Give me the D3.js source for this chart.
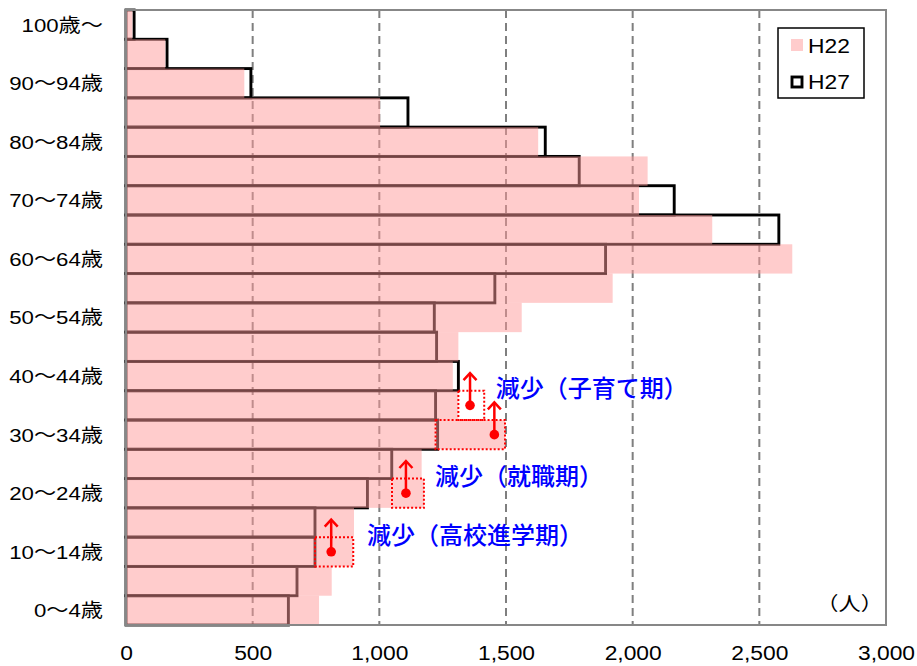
<!DOCTYPE html>
<html>
<head>
<meta charset="utf-8">
<script src="https://cdn.jsdelivr.net/npm/d3@7"></script>
<style>
  body { margin: 0; background: #fff; }
  svg { display: block; font-family: "Liberation Sans", "Noto Sans CJK JP", sans-serif; }
</style>
</head>
<body>
<svg id="chart" width="917" height="666"></svg>
<script>
// Age groups, youngest first
const ageGroups = [
  "0～4歳", "5～9歳", "10～14歳", "15～19歳", "20～24歳", "25～29歳",
  "30～34歳", "35～39歳", "40～44歳", "45～49歳", "50～54歳", "55～59歳",
  "60～64歳", "65～69歳", "70～74歳", "75～79歳", "80～84歳", "85～89歳",
  "90～94歳", "95～99歳", "100歳～"
];
// Population by age group (人)
const h22 = [762, 812, 897, 900, 1176, 1167, 1496, 1312, 1290, 1312, 1562, 1921,
             2630, 2314, 2025, 2059, 1627, 1003, 467, 155, 25];
const h27 = [641, 675, 746, 746, 953, 1049, 1230, 1222, 1312, 1226, 1217, 1456,
             1893, 2577, 2164, 1789, 1655, 1113, 493, 162, 32];
const seriesNames = ["H22", "H27"];
const xTicks = [0, 500, 1000, 1500, 2000, 2500, 3000];
const labeledAges = ["100歳～", "90～94歳", "80～84歳", "70～74歳", "60～64歳", "50～54歳",
                     "40～44歳", "30～34歳", "20～24歳", "10～14歳", "0～4歳"];
const unitLabel = "（人）";
// Cohort decreases: shaded span (from..to), marker value, label and where it sits
const noteAges  = ["10～14歳", "20～24歳", "30～34歳", "35～39歳"];
const noteFrom  = [746, 1050, 1222, 1312];
const noteTo    = [897, 1176, 1496, 1414];
const noteDot   = [810, 1105, 1454, 1358];
const noteTexts = ["減少（高校進学期）", "減少（就職期）", "減少（子育て期）"];
const noteTextAge = ["10～14歳", "20～24歳", "35～39歳"];
const noteTextX = [951, 1220, 1460];

const rows = ageGroups.map((a, i) => ({ age: a, h22: h22[i], h27: h27[i] }));

const svg = d3.select("#chart");
const m = { left: 126, right: 886, top: 10, bottom: 625 };
const x = d3.scaleLinear().domain([0, 3000]).range([m.left, m.right]);
const y = d3.scaleBand().domain(ageGroups.slice().reverse()).range([m.top, m.bottom]).padding(0);
const bw = y.bandwidth();
const stretch = "scale(1.17,1)";

// dashed vertical gridlines
svg.append("g").selectAll("line")
  .data(xTicks.filter(t => t > 0 && t < 3000))
  .join("line")
  .attr("x1", d => x(d)).attr("x2", d => x(d))
  .attr("y1", m.top).attr("y2", m.bottom)
  .attr("stroke", "#7f7f7f").attr("stroke-width", 2)
  .attr("stroke-dasharray", "8,5");

// small inward ticks on the category axis
svg.append("g").selectAll("line")
  .data(ageGroups)
  .join("line")
  .attr("x1", m.left).attr("x2", m.left + 7)
  .attr("y1", d => y(d)).attr("y2", d => y(d))
  .attr("stroke", "#7f7f7f").attr("stroke-width", 1.5);

// H27 outlines
svg.append("g").selectAll("rect")
  .data(rows)
  .join("rect")
  .attr("x", x(0))
  .attr("y", d => y(d.age))
  .attr("width", d => x(d.h27) - x(0))
  .attr("height", bw)
  .attr("fill", "none")
  .attr("stroke", "#000")
  .attr("stroke-width", 2.9);

// H22 translucent bars on top
svg.append("g").selectAll("rect")
  .data(rows)
  .join("rect")
  .attr("x", x(0))
  .attr("y", d => y(d.age))
  .attr("width", d => x(d.h22) - x(0))
  .attr("height", bw)
  .attr("fill", "rgb(255,153,153)")
  .attr("fill-opacity", 0.5);

// plot frame
svg.append("rect")
  .attr("x", m.left).attr("y", m.top)
  .attr("width", m.right - m.left).attr("height", m.bottom - m.top)
  .attr("fill", "none").attr("stroke", "#878787").attr("stroke-width", 2);

// category labels
const yAxis = d3.axisLeft(y).tickValues(labeledAges).tickSize(0).tickPadding(0);
const gy = svg.append("g").attr("transform", `translate(${m.left},0)`).call(yAxis);
gy.select(".domain").remove();
gy.selectAll(".tick text")
  .attr("x", 0).attr("dy", null)
  .attr("dominant-baseline", "central")
  .attr("text-anchor", "end")
  .attr("font-size", 19)
  .attr("font-family", "Liberation Sans, Noto Sans CJK JP, sans-serif")
  .attr("fill", "#000")
  .attr("transform", `translate(-23,0) ${stretch}`);

// value axis labels
const xAxis = d3.axisBottom(x).tickValues(xTicks).tickSize(0).tickFormat(d3.format(","));
const gx = svg.append("g").attr("transform", `translate(0,${m.bottom})`).call(xAxis);
gx.select(".domain").remove();
gx.selectAll(".tick text")
  .attr("y", 0).attr("dy", null)
  .attr("dominant-baseline", "central")
  .attr("font-size", 19.5)
  .attr("font-family", "Liberation Sans, sans-serif")
  .attr("fill", "#000")
  .attr("transform", `translate(0,28) ${stretch}`);

// unit label
svg.append("text")
  .attr("transform", `translate(${x(2988)},${m.bottom - 21}) ${stretch}`)
  .attr("text-anchor", "end")
  .attr("dominant-baseline", "central")
  .attr("font-size", 19)
  .text(unitLabel);

// legend
const lg = svg.append("g").attr("transform", "translate(778,28)");
lg.append("rect").attr("width", 86).attr("height", 70)
  .attr("fill", "#fff").attr("stroke", "#000").attr("stroke-width", 1.5);
lg.append("rect").attr("x", 13).attr("y", 11).attr("width", 12).attr("height", 12)
  .attr("fill", "rgb(255,153,153)").attr("fill-opacity", 0.5);
lg.append("rect").attr("x", 14).attr("y", 49).attr("width", 10).attr("height", 10)
  .attr("fill", "none").attr("stroke", "#000").attr("stroke-width", 2.9);
lg.selectAll("text.lbl")
  .data(seriesNames)
  .join("text")
  .attr("class", "lbl")
  .attr("transform", (d, i) => `translate(30,${18 + i * 36}) ${stretch}`)
  .attr("dominant-baseline", "central")
  .attr("font-size", 19.5)
  .text(d => d);

// cohort-decrease annotations
const red = "#ff0000";
const ann = svg.append("g");
noteAges.forEach((age, i) => {
  const cy = y(age) + bw / 2;
  ann.append("rect")
    .attr("x", x(noteFrom[i])).attr("y", y(age))
    .attr("width", x(noteTo[i]) - x(noteFrom[i])).attr("height", bw)
    .attr("fill", "none").attr("stroke", red).attr("stroke-width", 2)
    .attr("stroke-dasharray", "2,2");
  const cx = x(noteDot[i]);
  const tip = cy - bw * 1.1;
  ann.append("line")
    .attr("x1", cx).attr("x2", cx).attr("y1", cy).attr("y2", tip + 1)
    .attr("stroke", red).attr("stroke-width", 2.5);
  ann.append("path")
    .attr("d", `M${cx - 6.5},${tip + 7} L${cx},${tip} L${cx + 6.5},${tip + 7}`)
    .attr("fill", "none").attr("stroke", red).attr("stroke-width", 2.5);
  ann.append("circle")
    .attr("cx", cx).attr("cy", cy).attr("r", 4.8).attr("fill", red);
});
noteTexts.forEach((t, i) => {
  ann.append("text")
    .attr("x", x(noteTextX[i]))
    .attr("y", y(noteTextAge[i]) - 4)
    .attr("dominant-baseline", "central")
    .attr("font-family", "Noto Sans CJK JP, sans-serif")
    .attr("font-size", 24)
    .attr("font-weight", 500)
    .attr("fill", "#0000ff")
    .text(t);
});
</script>
</body>
</html>
